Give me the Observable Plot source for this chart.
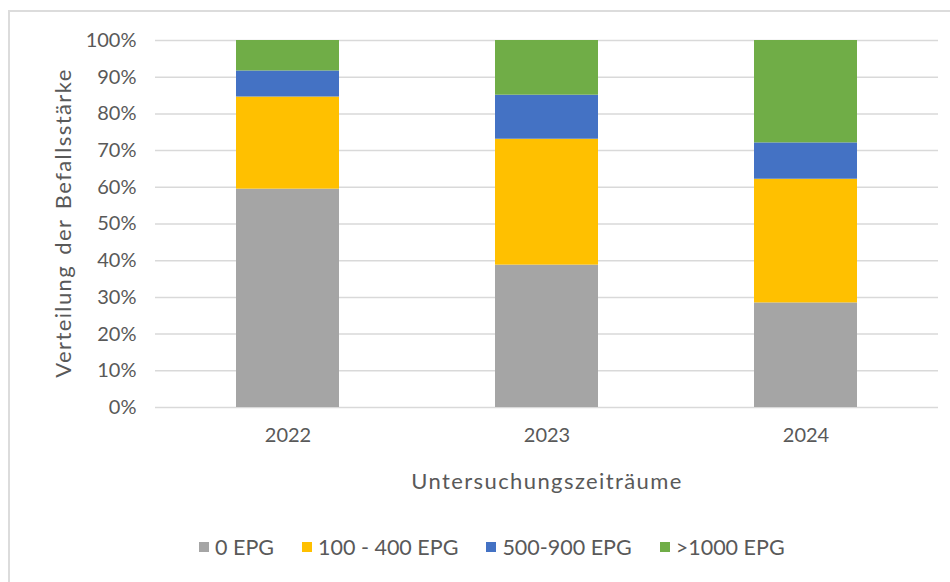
<!DOCTYPE html>
<html>
<head>
<meta charset="utf-8">
<script src="https://cdn.jsdelivr.net/npm/d3@7"></script>
<script src="https://cdn.jsdelivr.net/npm/@observablehq/plot@0.6"></script>
<style>
  html, body { margin: 0; padding: 0; background: #fff; }
  body { width: 950px; height: 582px; position: relative; overflow: hidden; font-family: Lato, "Open Sans", sans-serif; }
  #frame { position: absolute; left: 8px; top: 10px; width: 1000px; height: 700px; border: 2px solid #dcdcdc; box-sizing: border-box; }
  #chart { position: absolute; left: 0; top: 0; }
  #legend { position: absolute; left: 199px; top: 534px; display: flex; align-items: center; color: #595959; font-size: 21.5px; white-space: nowrap; }
  #legend .item { display: flex; align-items: center; margin-right: 28px; }
  #legend .sw { width: 10px; height: 10px; margin-right: 6px; }
  .axtitle { letter-spacing: 1.4px; word-spacing: 3px; }
</style>
</head>
<body>
<div id="frame"></div>
<div id="chart"></div>
<div id="legend"></div>
<script>
const years = ["2022", "2023", "2024"];
const seriesNames = ["0 EPG", "100 - 400 EPG", "500-900 EPG", ">1000 EPG"];
const v0 = [59.5, 38.8, 28.5];
const v100_400 = [25.1, 34.3, 33.7];
const v500_900 = [7.1, 12.0, 9.9];
const v1000 = [8.3, 14.9, 27.9];
const yTicks = [0, 10, 20, 30, 40, 50, 60, 70, 80, 90, 100];
const colors = ["#A5A5A5", "#FFC000", "#4472C4", "#70AD47"];
const xTitle = "Untersuchungszeiträume";
const yTitle = "Verteilung der Befallsstärke";

const seriesValues = [v0, v100_400, v500_900, v1000];
const rows = [];
seriesNames.forEach((s, si) => {
  years.forEach((y, yi) => rows.push({year: y, series: s, value: seriesValues[si][yi]}));
});

const plot = Plot.plot({
  width: 950,
  height: 510,
  marginLeft: 155,
  marginRight: 12,
  marginTop: 40,
  marginBottom: 103,
  style: {fontFamily: "Lato, 'Open Sans', sans-serif", fontSize: "20px", color: "#595959", background: "transparent"},
  x: {domain: years, paddingInner: 0.602, paddingOuter: 0.3125},
  y: {domain: [0, 100]},
  color: {domain: seriesNames, range: colors},
  marks: [
    Plot.ruleY(yTicks, {stroke: "#D9D9D9", strokeWidth: 1.5}),
    Plot.barY(rows, Plot.stackY({x: "year", y: "value", fill: "series", order: seriesNames})),
    Plot.axisY(yTicks, {tickSize: 0, tickPadding: 19, tickFormat: d => d + "%", fontSize: 20, fill: "#595959",
      label: null}),
    Plot.axisX({tickSize: 0, tickPadding: 20, fontSize: 20, fill: "#595959", label: null})
  ]
});

// axis titles as SVG text within the plot's svg
const ns = "http://www.w3.org/2000/svg";
const xt = document.createElementNS(ns, "text");
xt.setAttribute("class", "axtitle");
xt.setAttribute("x", 547);
xt.setAttribute("y", 480);
xt.setAttribute("text-anchor", "middle");
xt.setAttribute("dominant-baseline", "central");
xt.setAttribute("fill", "#595959");
xt.setAttribute("font-size", "22");
xt.textContent = xTitle;
plot.appendChild(xt);

const yt = document.createElementNS(ns, "text");
yt.setAttribute("class", "axtitle");
yt.setAttribute("transform", "translate(62,223) rotate(-90)");
yt.setAttribute("text-anchor", "middle");
yt.setAttribute("dominant-baseline", "central");
yt.setAttribute("fill", "#595959");
yt.setAttribute("font-size", "22");
yt.textContent = yTitle;
plot.appendChild(yt);

document.getElementById("chart").appendChild(plot);

const legend = document.getElementById("legend");
seriesNames.forEach((s, i) => {
  const item = document.createElement("div");
  item.className = "item";
  const sw = document.createElement("span");
  sw.className = "sw";
  sw.style.background = colors[i];
  const t = document.createElement("span");
  t.textContent = s;
  item.appendChild(sw);
  item.appendChild(t);
  legend.appendChild(item);
});
</script>
</body>
</html>
